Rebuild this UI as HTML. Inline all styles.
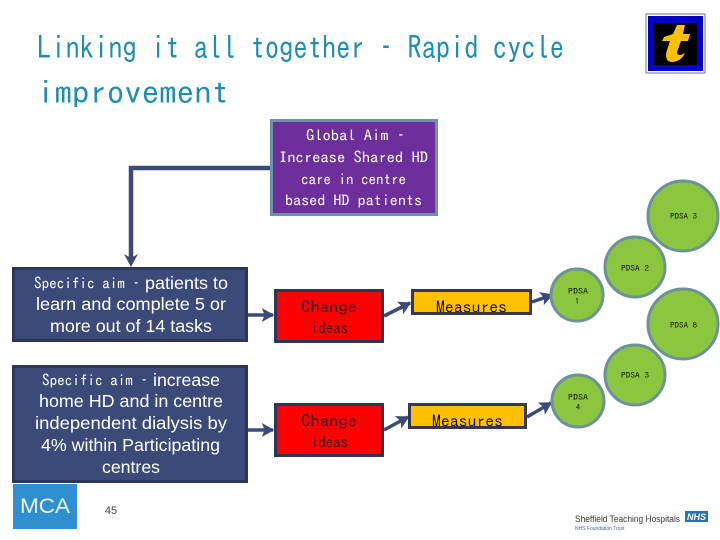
<!DOCTYPE html>
<html><head><meta charset="utf-8"><style>
html,body{margin:0;padding:0;background:#fff}
svg{display:block}
text{font-family:"IPAGothic","Liberation Sans",sans-serif}
.l{font-family:"Liberation Sans",sans-serif}
</style></head><body>
<svg width="720" height="540" viewBox="0 0 720 540" xmlns="http://www.w3.org/2000/svg">
<defs><marker id="a" markerWidth="4" markerHeight="4" refX="3.2" refY="2" orient="auto"><path d="M0 0L3.6 2L0 4L.8 2Z" fill="#3b4a78"/></marker></defs>
<rect width="720" height="540" fill="#fff"/>
<g font-size="32" fill="#1e8cb4">
<text x="37" y="59" textLength="527" lengthAdjust="spacingAndGlyphs">Linking it all together – Rapid cycle</text>
<text x="37" y="104" textLength="192" lengthAdjust="spacingAndGlyphs">improvement</text>
</g>
<!-- trust logo -->
<rect x="646" y="14" width="59" height="59" fill="#fff" stroke="#777" stroke-width="1"/>
<rect x="648" y="16" width="55" height="55" fill="#0000c8"/>
<rect x="654" y="23" width="43" height="42" fill="#000"/>
<path d="M677 25L685 25L683 34L690 34L688 41L681 41L677 52C677 56 682 56 685 52C683 59 677 62 672 62C666 62 665 56 667 50L670 41L662 41L664 37L673 34Z" fill="#ffc000"/>
<!-- connectors -->
<path d="M271 168H131V258" fill="none" stroke="#3b4a78" stroke-width="4.500"/>
<path d="M124 254L131 258L138 254L131 267Z" fill="#3b4a78"/>
<g fill="none" stroke="#3b4a78" stroke-width="3.500" marker-end="url(#a)">
<path d="M248 315H273"/>
<path d="M384 316L410 303"/>
<path d="M532 302L552 295"/>
<path d="M248 430H273"/>
<path d="M384 430L408 417"/>
<path d="M527 417L551 403"/>
</g>
<!-- global aim -->
<rect x="271.500" y="120.500" width="165" height="94" fill="#6d2f9c" stroke="#7090b0" stroke-width="3"/>
<g font-size="15.500" fill="#fff">
<text x="306" y="141" textLength="99" lengthAdjust="spacingAndGlyphs">Global Aim –</text>
<text x="279" y="163" textLength="149" lengthAdjust="spacingAndGlyphs">Increase Shared HD</text>
<text x="301" y="185" textLength="105" lengthAdjust="spacingAndGlyphs">care in centre</text>
<text x="285" y="206" textLength="137" lengthAdjust="spacingAndGlyphs">based HD patients</text>
</g>
<!-- specific aims -->
<rect x="13.500" y="268.500" width="233" height="72" fill="#3b4a78" stroke="#2b3658" stroke-width="3"/>
<rect x="13.500" y="366.500" width="233" height="115" fill="#3b4a78" stroke="#2b3658" stroke-width="3"/>
<g fill="#fff">
<text x="34" y="289" font-size="15.500" textLength="106" lengthAdjust="spacingAndGlyphs">Specific aim –</text>
<text class="l" x="145" y="289" font-size="17.500" textLength="83" lengthAdjust="spacingAndGlyphs">patients to</text>
<text class="l" x="36" y="310" font-size="17.500" textLength="190" lengthAdjust="spacingAndGlyphs">learn and complete 5 or</text>
<text class="l" x="50" y="332" font-size="17.500" textLength="162" lengthAdjust="spacingAndGlyphs">more out of 14 tasks</text>
<text x="42" y="386" font-size="15.500" textLength="106" lengthAdjust="spacingAndGlyphs">Specific aim –</text>
<text class="l" x="153" y="386" font-size="17.500" textLength="67" lengthAdjust="spacingAndGlyphs">increase</text>
<text class="l" x="39" y="407" font-size="17.500" textLength="184" lengthAdjust="spacingAndGlyphs">home HD and in centre</text>
<text class="l" x="35" y="429" font-size="17.500" textLength="192" lengthAdjust="spacingAndGlyphs">independent dialysis  by</text>
<text class="l" x="41" y="451" font-size="17.500" textLength="179" lengthAdjust="spacingAndGlyphs">4% within Participating</text>
<text class="l" x="102" y="473" font-size="17.500" textLength="58" lengthAdjust="spacingAndGlyphs">centres</text>
</g>
<!-- change ideas -->
<g fill="#ff0000" stroke="#2b3658" stroke-width="3">
<rect x="275.500" y="290.500" width="107" height="51"/>
<rect x="275.500" y="404.500" width="107" height="51"/>
</g>
<g font-size="16" fill="#3a1020">
<text x="301" y="313" textLength="56" lengthAdjust="spacingAndGlyphs">Change</text><text x="311" y="334" textLength="37" lengthAdjust="spacingAndGlyphs">ideas</text>
<text x="301" y="427" textLength="56" lengthAdjust="spacingAndGlyphs">Change</text><text x="311" y="448" textLength="37" lengthAdjust="spacingAndGlyphs">ideas</text>
</g>
<!-- measures -->
<g fill="#ffc000" stroke="#333a50" stroke-width="3">
<rect x="412.500" y="290.500" width="118" height="23"/>
<rect x="409.500" y="404.500" width="116" height="23"/>
</g>
<g font-size="16" fill="#111">
<text x="436" y="313" textLength="71" lengthAdjust="spacingAndGlyphs">Measures</text>
<text x="432" y="427" textLength="71" lengthAdjust="spacingAndGlyphs">Measures</text>
</g>
<!-- PDSA circles -->
<g fill="#8cc63f" stroke="#6b929a" stroke-width="3">
<circle cx="683" cy="216" r="35"/>
<circle cx="635" cy="267" r="30"/>
<circle cx="577" cy="295" r="26"/>
<circle cx="683" cy="324" r="35"/>
<circle cx="635" cy="375" r="30"/>
<circle cx="578" cy="401" r="26"/>
</g>
<g font-size="8" fill="#111">
<text x="670" y="219" textLength="27" lengthAdjust="spacingAndGlyphs">PDSA 3</text>
<text x="621" y="271" textLength="28" lengthAdjust="spacingAndGlyphs">PDSA 2</text>
<text x="568" y="294" textLength="20" lengthAdjust="spacingAndGlyphs">PDSA</text><text x="575" y="304">1</text>
<text x="670" y="328" textLength="27" lengthAdjust="spacingAndGlyphs">PDSA 8</text>
<text x="621" y="378" textLength="28" lengthAdjust="spacingAndGlyphs">PDSA 3</text>
<text x="568" y="400" textLength="20" lengthAdjust="spacingAndGlyphs">PDSA</text><text x="576" y="410">4</text>
</g>
<!-- MCA logo -->
<rect x="13" y="484" width="64" height="45" fill="#2f8fcf"/>
<text class="l" x="20" y="513" font-size="21" fill="#e8f6ff" textLength="50" lengthAdjust="spacingAndGlyphs">MCA</text>
<text class="l" x="111" y="514" font-size="11" fill="#444" text-anchor="middle">45</text>
<!-- Sheffield logo -->
<text class="l" x="575" y="522" font-size="9.500" fill="#333" textLength="105" lengthAdjust="spacingAndGlyphs">Sheffield Teaching Hospitals</text>
<rect x="685" y="511" width="23" height="11" fill="#2a6fb5"/>
<text class="l" x="696.500" y="520" font-size="9" font-weight="bold" font-style="italic" fill="#fff" text-anchor="middle">NHS</text>
<text class="l" x="575" y="530" font-size="5" fill="#3a6aa0">NHS Foundation Trust</text>
</svg>
</body></html>
